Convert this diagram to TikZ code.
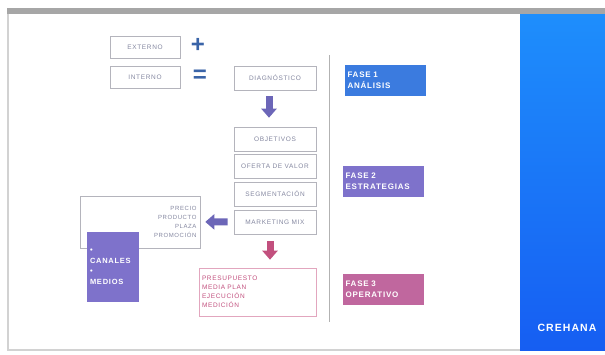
\documentclass[tikz,border=0pt]{standalone}
\usepackage{fontspec}
\setmainfont{Liberation Sans}
\newfontfamily\anchafont{Liberation Sans}[LetterSpace=10]
\usetikzlibrary{arrows.meta}
\usetikzlibrary{positioning}

\definecolor{boxgris}{HTML}{B4B4BC}
\definecolor{textgris}{HTML}{8487A0}
\definecolor{signoazul}{HTML}{3A64A8}
\definecolor{faseazul}{HTML}{3B7BDF}
\definecolor{fasemorado}{HTML}{7E72CB}
\definecolor{faserosa}{HTML}{C0679E}
\definecolor{flechamorado}{HTML}{6C66B8}
\definecolor{flecharosa}{HTML}{C2507E}
\definecolor{cajarosa}{HTML}{E2A6BE}
\definecolor{panelarriba}{HTML}{1E8EFC}
\definecolor{panelabajo}{HTML}{165EF2}

\tikzset{
  caja/.style={draw=boxgris, line width=0.6pt, fill=white, minimum width=82pt,
    minimum height=24pt, inner sep=0pt, text=textgris, font=\anchafont\fontsize{6.5}{7}\selectfont},
  fase/.style={fill=#1, minimum width=81pt, minimum height=31pt, inner sep=0pt,
    text width=75pt, align=left, text=white, font=\anchafont\fontsize{8}{11}\selectfont\bfseries},
  signo/.style={text=signoazul, inner sep=0pt, font=\fontsize{24}{24}\selectfont\bfseries},
  flecha/.style={draw=#1, line width=7pt, -{Triangle[length=9pt,width=15pt]}},
}

\begin{document}
\begin{tikzpicture}[x=1pt, y=-1pt]
\useasboundingbox (0,0) rectangle (605,354);
% slide
\fill[white] (0,0) rectangle (605,354);
\fill[gray!70] (7,8) rectangle (605,14);
\draw[gray!35, line width=1.5pt] (8,14) -- (8,350) -- (520,350);
\shade[top color=panelarriba, bottom color=panelabajo] (520,14) rectangle (605,350);
\node[text=white, font=\anchafont\fontsize{10.5}{11}\selectfont\bfseries] (marca) at (567,328) {CREHANA};

% entradas
\node[caja, minimum width=70pt, minimum height=22pt] (externo) at (145,47) {EXTERNO};
\node[caja, minimum width=70pt, minimum height=22pt] (interno) at (145,77) {INTERNO};
\node[signo] (mas) at (198,45) {+};
\node[signo] (igual) at (200,76) {=};
\node[caja] (diagnostico) at (275,78) {DIAGNÓSTICO};

% estrategia
\node[caja] (objetivos) at (275,139) {OBJETIVOS};
\node[caja, below=3pt of objetivos] (oferta) {OFERTA DE VALOR};
\node[caja, below=3pt of oferta] (segmentacion) {SEGMENTACIÓN};
\node[caja, below=3pt of segmentacion] (marketing) {MARKETING MIX};

\node[caja, minimum width=120pt, minimum height=52pt, text width=113pt, align=right,
  font=\anchafont\fontsize{6}{9}\selectfont]
  (mix) at (140,222) {PRECIO\\PRODUCTO\\PLAZA\\PROMOCIÓN};
\node[fill=fasemorado, minimum width=52pt, minimum height=70pt, inner sep=0pt,
  text width=46pt, align=left, text=white, font=\anchafont\fontsize{7.5}{10.5}\selectfont\bfseries]
  (canales) at (113,267) {•\\CANALES\\•\\MEDIOS};

% operativo
\node[caja, draw=cajarosa, text=flecharosa, minimum width=117pt, minimum height=48pt,
  text width=111pt, align=left, font=\anchafont\fontsize{6.5}{9}\selectfont]
  (presupuesto) at (257.5,292) {PRESUPUESTO\\MEDIA PLAN\\EJECUCIÓN\\MEDICIÓN};

% flechas
\draw[flecha=flechamorado, shorten <=6pt, shorten >=9pt]
  ([xshift=-6pt]diagnostico.south) -- ([xshift=-6pt]objetivos.north);
\draw[flecha=flechamorado, shorten <=6pt, shorten >=5pt] (marketing) -- (mix);
\draw[flecha=flecharosa, shorten <=7pt, shorten >=8pt]
  ([xshift=-5pt]marketing.south) -- ([xshift=-5pt]marketing.south |- presupuesto.north);

% fases
\coordinate (lineaarriba) at (329,55);
\coordinate (lineaabajo) at (329,322);
\draw[gray!60, line width=0.8pt] (lineaarriba) -- (lineaabajo);
\node[fase=faseazul] (fase1) at (385,80) {FASE 1\\ANÁLISIS};
\node[fase=fasemorado] (fase2) at (383,181) {FASE 2\\ESTRATEGIAS};
\node[fase=faserosa] (fase3) at (383,289) {FASE 3\\OPERATIVO};
\end{tikzpicture}
\end{document}
